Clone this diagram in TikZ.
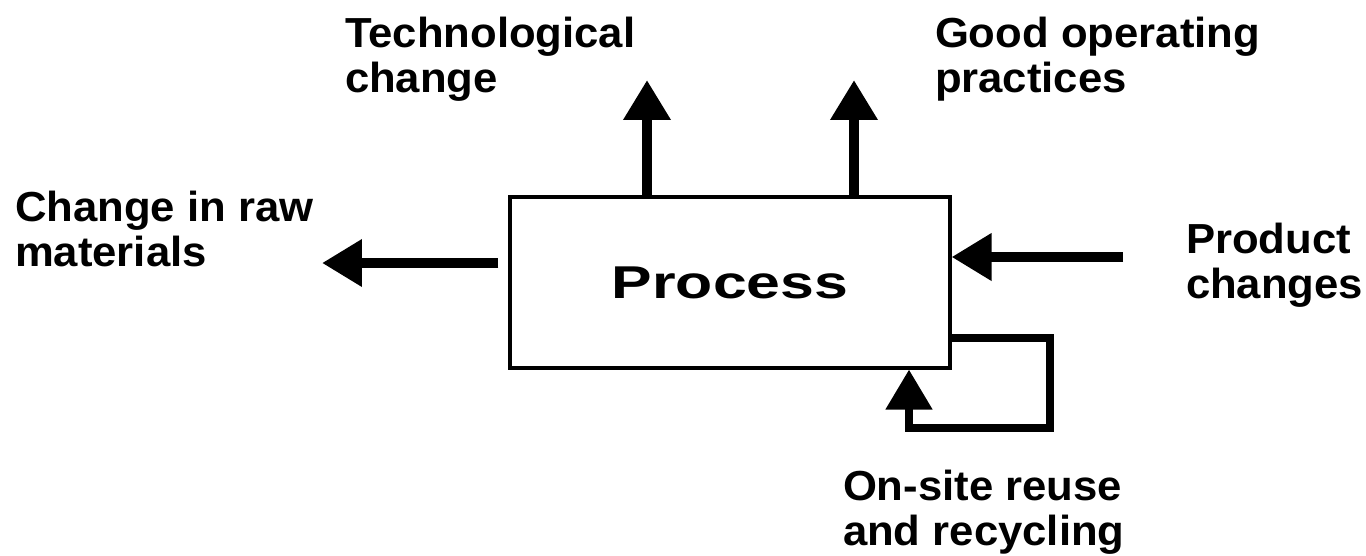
\documentclass[tikz,border=0pt]{standalone}
\usepackage{fontspec}
\setmainfont{Liberation Sans}
\newfontfamily\labelfont{Liberation Sans}[FakeStretch=1.04]
\newfontfamily\boxfont{Liberation Sans}[FakeStretch=1.32]
\usetikzlibrary{positioning,arrows.meta}
\tikzset{
labelnode/.style = {anchor=base west, align=left, inner sep=0pt, outer sep=0pt,
  font=\labelfont\bfseries\fontsize{23.9}{25.6}\selectfont},
boxnode/.style = {draw, line width=1.8pt, minimum width=8.8cm, minimum height=3.42cm,
  inner sep=0pt, font=\boxfont\bfseries\fontsize{26.2}{28}\selectfont},
flow/.style = {line width=5.7pt, -{Triangle[length=0.8cm,width=0.9cm]}}
}

\begin{document}
\begin{tikzpicture}[x=0.02cm,y=-0.02cm]
    \useasboundingbox (0,0) rectangle (1366,555);
    % the box
    \node [boxnode] (process) at (730,282.5) {Process};
    % labels (placed by the baseline of their last line)
    \node [labelnode] (techlabel) at (345,92) {Technological\\change};
    \node [labelnode] (goodlabel) at (935,92) {Good operating\\practices};
    \node [labelnode] (rawlabel) at (15,266) {Change in raw\\materials};
    \node [labelnode] (prodlabel) at (1186,298) {Product\\changes};
    \node [labelnode] (reuselabel) at (843,545) {On-site reuse\\and recycling};
    % free ends
    \coordinate (techtip) at (647,80);
    \coordinate (goodtip) at (854,80);
    \coordinate (rawtip) at (322,263);
    \coordinate (prodtail) at (1123,257);
    \coordinate (loopa) at (1050,338);
    \coordinate (loopb) at (1050,428);
    \coordinate (loopc) at (909,428);
    % arrows
    \draw [flow] (process.north -| techtip) -- (techtip);
    \draw [flow] (process.north -| goodtip) -- (goodtip);
    \draw [flow] ([xshift=-0.2cm]process.west |- rawtip) -- (rawtip);
    \draw [flow] (prodtail) -- (process.east |- prodtail);
    \draw [flow, line width=4.6pt] (process.east |- loopa) -- (loopa) -- (loopb) -- (loopc) -- (process.south -| loopc);
\end{tikzpicture}
\end{document}
